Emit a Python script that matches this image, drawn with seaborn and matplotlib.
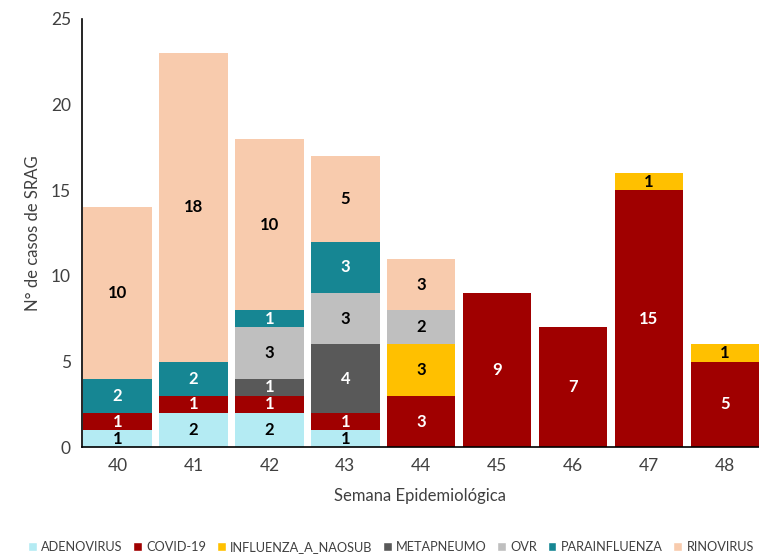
import pandas as pd
import matplotlib
matplotlib.use("Agg")
import matplotlib.pyplot as plt
from matplotlib.patches import Patch
import seaborn as sns

weeks = ["40", "41", "42", "43", "44", "45", "46", "47", "48"]
virus = ["ADENOVIRUS", "COVID-19", "INFLUENZA_A_NAOSUB", "METAPNEUMO", "OVR", "PARAINFLUENZA", "RINOVIRUS"]
adenovirus = [1, 2, 2, 1, 0, 0, 0, 0, 0]
covid = [1, 1, 1, 1, 3, 9, 7, 15, 5]
influenza = [0, 0, 0, 0, 3, 0, 0, 1, 1]
metapneumo = [0, 0, 1, 4, 0, 0, 0, 0, 0]
ovr = [0, 0, 3, 3, 2, 0, 0, 0, 0]
parainfluenza = [2, 2, 1, 3, 0, 0, 0, 0, 0]
rinovirus = [10, 18, 10, 5, 3, 0, 0, 0, 0]

colors = ["#B4EBF3", "#A00000", "#FFC000", "#595959", "#BFBFBF", "#168693", "#F8CBAD"]
text_colors = ["black", "white", "black", "white", "black", "white", "black"]

df = pd.DataFrame({"week": weeks, "ADENOVIRUS": adenovirus, "COVID-19": covid,
                   "INFLUENZA_A_NAOSUB": influenza, "METAPNEUMO": metapneumo,
                   "OVR": ovr, "PARAINFLUENZA": parainfluenza, "RINOVIRUS": rinovirus})
cum = df[virus].cumsum(axis=1)
bottoms = cum - df[virus]

sns.set_style("white")
plt.rcParams["font.family"] = ["Lato", "DejaVu Sans"]

fig = plt.figure(figsize=(7.59, 5.57), dpi=100)
ax = fig.add_axes([0.108, 0.197, 0.892, 0.769])

# draw the stack from the top layer down so each shorter bar covers the one below
for i in reversed(range(len(virus))):
    sns.barplot(x=df["week"], y=cum[virus[i]], color=colors[i], saturation=1,
                width=0.9, ax=ax, edgecolor="none")

for i, v in enumerate(virus):
    for j in range(len(weeks)):
        val = df[v][j]
        if val > 0:
            ax.text(j, bottoms[v][j] + val / 2, str(val), ha="center", va="center",
                    color=text_colors[i], fontsize=12, fontweight="bold")

ax.set_ylim(0, 25)
ax.set_xlim(-0.47, 8.45)
ax.set_yticks(range(0, 26, 5))
ax.set_xlabel("Semana Epidemiológica", fontsize=12, color="#404040", labelpad=10)
ax.set_ylabel("N° de casos de SRAG", fontsize=12, color="#404040", labelpad=7)
ax.tick_params(axis="both", labelsize=12.5, colors="#404040", length=0, pad=8)
for s in ["top", "right"]:
    ax.spines[s].set_visible(False)
ax.spines["left"].set_color("black")
ax.spines["bottom"].set_color("black")
ax.spines["left"].set_linewidth(1.2)
ax.spines["bottom"].set_linewidth(1.2)

handles = [Patch(facecolor=c, label=v) for c, v in zip(colors, virus)]
fig.legend(handles=handles, loc="center", bbox_to_anchor=(0.515, 0.018), ncol=7,
           frameon=False, fontsize=9.2, handlelength=0.7, handleheight=0.7,
           handletextpad=0.35, columnspacing=0.8, labelcolor="#404040")

fig.savefig("out.png", dpi=100)
